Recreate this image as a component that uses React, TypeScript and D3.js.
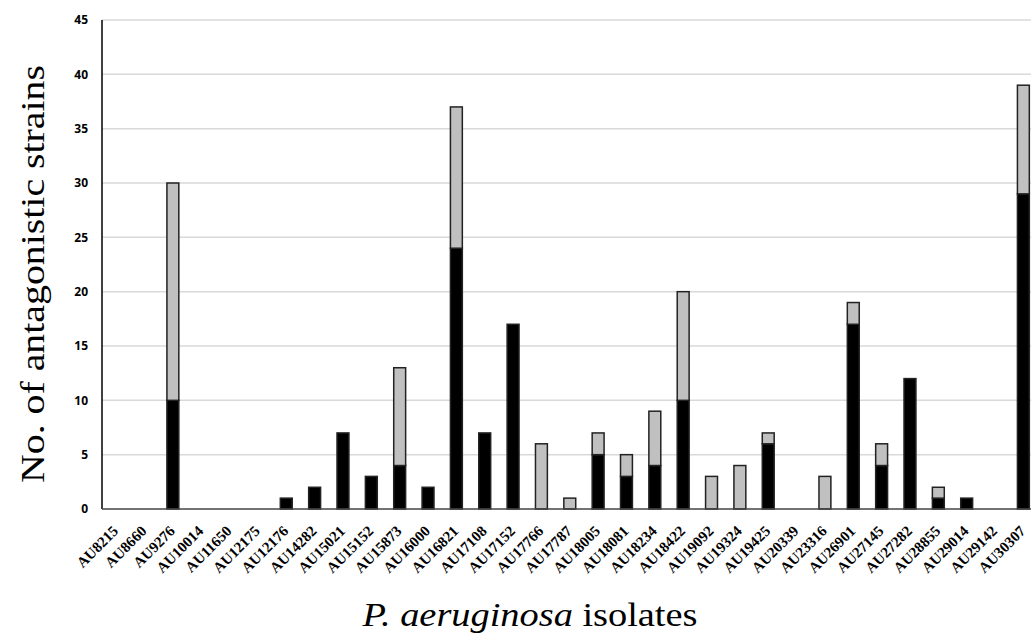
import * as d3 from 'd3';

const isolates = [
  'AU8215', 'AU8660', 'AU9276', 'AU10014', 'AU11650', 'AU12175', 'AU12176', 'AU14282',
  'AU15021', 'AU15152', 'AU15873', 'AU16000', 'AU16821', 'AU17108', 'AU17152', 'AU17766',
  'AU17787', 'AU18005', 'AU18081', 'AU18234', 'AU18422', 'AU19092', 'AU19324', 'AU19425',
  'AU20339', 'AU23316', 'AU26901', 'AU27145', 'AU27282', 'AU28855', 'AU29014', 'AU29142',
  'AU30307',
];
const blackValues = [0, 0, 10, 0, 0, 0, 1, 2, 7, 3, 4, 2, 24, 7, 17, 0, 0, 5, 3, 4, 10, 0, 0, 6, 0, 0, 17, 4, 12, 1, 1, 0, 29];
const greyValues = [0, 0, 20, 0, 0, 0, 0, 0, 0, 0, 9, 0, 13, 0, 0, 6, 1, 2, 2, 5, 10, 3, 4, 1, 0, 3, 2, 2, 0, 1, 0, 0, 10];
const yTicks = [0, 5, 10, 15, 20, 25, 30, 35, 40, 45];

const W = 1031;
const H = 641;
const margin = { top: 20, left: 102, bottom: 132 };
const SERIF = 'Liberation Serif, Times New Roman, serif';
const fills: Record<string, string> = { black: '#000000', grey: '#c0c0c0' };

const App = () => {
  const plotH = H - margin.top - margin.bottom;
  const step = 28.35;
  const x = d3.scaleBand()
    .domain(isolates)
    .range([margin.left, margin.left + step * isolates.length])
    .paddingInner(0.58)
    .paddingOuter(0.29);
  const y = d3.scaleLinear().domain([0, 45]).range([margin.top + plotH, margin.top]);

  const rows = isolates.map((name, i) => ({ name, black: blackValues[i], grey: greyValues[i] }));
  const stacked = d3.stack<any>().keys(['black', 'grey'])(rows);

  return (
    <svg width={W} height={H} style={{ position: 'absolute', left: 0, top: 0, background: '#fff' }}>
      {/* gridlines */}
      {yTicks.filter(t => t > 0).map(t => (
        <line key={t} x1={margin.left} x2={W} y1={y(t)} y2={y(t)} stroke="#d9d9d9" strokeWidth={1.5} />
      ))}

      {/* stacked bars */}
      {stacked.map(layer => (
        <g key={layer.key}>
          {layer.filter(d => d[1] - d[0] > 0).map(d => (
            <rect key={d.data.name} x={x(d.data.name)} width={x.bandwidth()}
              y={y(d[1])} height={y(d[0]) - y(d[1])}
              fill={fills[layer.key]} stroke="#222" strokeWidth={1.5} />
          ))}
        </g>
      ))}

      {/* y axis */}
      <line x1={margin.left} x2={margin.left} y1={y(45)} y2={y(0)} stroke="#000" strokeWidth={1.5} />
      {yTicks.map(t => (
        <text key={t} x={margin.left - 14} y={y(t)} dy="0.35em" textAnchor="end"
          style={{ fontFamily: 'Open Sans, sans-serif', fontWeight: 'bold', fontSize: 12 }}>{t}</text>
      ))}

      {/* x axis */}
      <line x1={margin.left} x2={W} y1={y(0)} y2={y(0)} stroke="#444" strokeWidth={1.5} />
      {isolates.map(name => (
        <text key={name} textAnchor="end"
          transform={`translate(${x(name)! + x.bandwidth() / 2 + 3},${y(0) + 23}) rotate(-45)`}
          style={{ fontFamily: SERIF, fontWeight: 'bold', fontSize: 15 }}>{name}</text>
      ))}

      {/* axis titles */}
      <text transform={`translate(44,274) rotate(-90)`} textAnchor="middle"
        textLength={418} lengthAdjust="spacingAndGlyphs"
        style={{ fontFamily: SERIF, fontSize: 33 }}>No. of antagonistic strains</text>
      <text x={530} y={626} textAnchor="middle" textLength={335} lengthAdjust="spacingAndGlyphs"
        style={{ fontFamily: SERIF, fontSize: 33 }}>
        <tspan style={{ fontStyle: 'italic' }}>P. aeruginosa</tspan>
        <tspan> isolates</tspan>
      </text>
    </svg>
  );
};

export default App;
